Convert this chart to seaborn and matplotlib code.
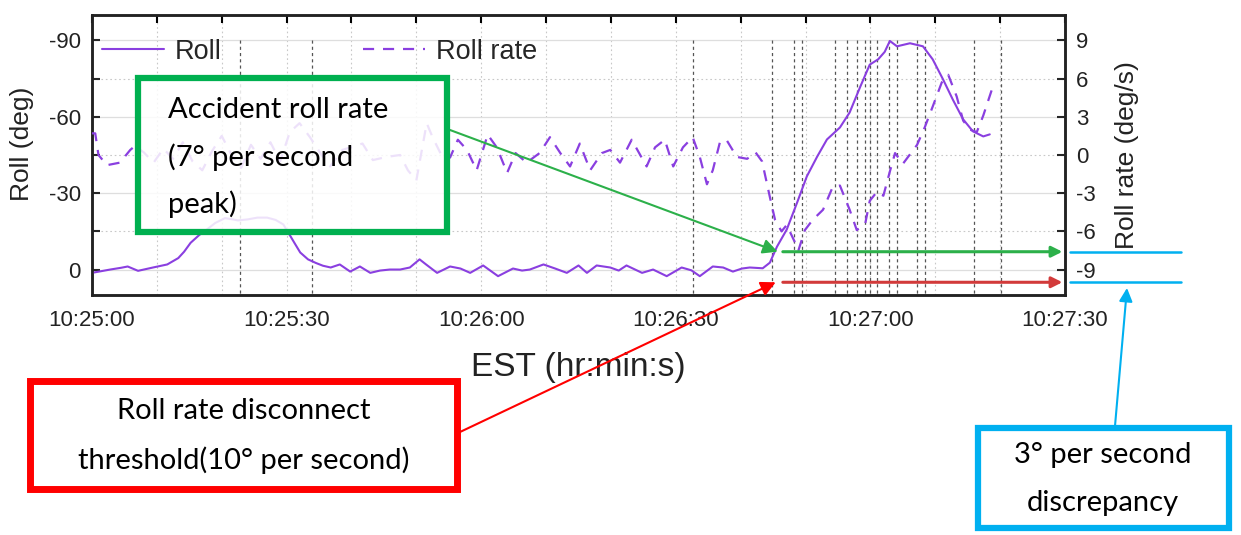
import numpy as np
import matplotlib
matplotlib.use("Agg")
import matplotlib.pyplot as plt
import matplotlib.transforms as mtransforms
from matplotlib.patches import Rectangle, FancyArrowPatch
from matplotlib.lines import Line2D
import seaborn as sns

# seconds after 10:25:00
t_roll = [0, 2.8, 4.5, 5.5, 7.1, 9.4, 11.6, 13.3, 14.2, 15.2, 16.5, 17.7, 19, 20.5, 21.7,
          22.5, 24, 25.5, 27, 28.3, 29.5, 30.5, 31.2, 32.1, 33.3, 34.5, 35.6, 36.8, 38.2,
          39.8, 41.3, 42.9, 44.4, 45.9, 47.5, 49, 50.5, 51.5, 53.2, 55.2, 56.8, 58.3, 60.3,
          62.6, 64.9, 66.3, 67.5, 69.6, 71.4, 73.2, 75, 76.3, 77.8, 79.9, 81.2, 82.4, 84.8,
          86.5, 88.6, 90.9, 92.4, 93.7, 95.7, 97.3, 98.8, 100.2, 101.4, 103.4, 104.5, 105.6,
          107.1, 108.7, 110.2, 111.8, 113.3, 115.3, 116.8, 118.4, 119.9, 121.2, 122.2, 123,
          124.1, 126.1, 128.1, 129.6, 131.2, 132.7, 134.3, 135.8, 137.4, 138.4]
roll = [1.3, 0, -0.7, -1.2, 0.5, -0.8, -2, -4.5, -7, -10.5, -13.5, -15.7, -18.3, -20.2, -19.7,
        -19.3, -19.7, -20.4, -20.4, -19.5, -17.7, -13.5, -10.5, -6.7, -4.0, -2.6, -1.5, -0.8, -2.0,
        0.8, -1.2, 1.3, 0.4, 0, 0, -0.8, -4, -2, 1.3, -1.2, -0.4, 1.3, -1.6,
        2.6, -0.4, 0.4, 0, -2, -0.4, 1.3, -1.6, 1.3, -1.6, -0.8, 0.4, -1.6, 1.3,
        0, 2.6, -0.8, 0.3, 2.6, -1.2, -0.8, 0.8, -0.4, -0.8, -0.5, -2.7, -9,
        -15.7, -26.3, -36.6, -44.4, -51.1, -55.8, -61.7, -71.6, -80.5, -82.6, -85.5, -89.8,
        -87.7, -88.9, -87.7, -82.6, -74.7, -66.8, -59, -54.3, -52.3, -53.1]

t_rate = [0, 0.5, 1, 2.3, 4.3, 5.9, 6.6, 8, 9.5, 11, 12.5, 14, 15.5, 17, 18.5, 20, 21.5, 23,
          24.5, 26, 27.5, 29, 30.5, 32, 33.6, 35.6, 36.7, 38.6, 41.7, 43.3, 45.4, 47.5, 48.7,
          50, 51.6, 52.5, 54, 55.2, 56.4, 57.8, 59.3, 61, 62.4, 64, 65.3, 67, 69, 70.6, 72.2,
          73.7, 75.2, 76.8, 78.6, 79.9, 81.4, 83.2, 85.5, 86.8, 88.3, 89.6, 91.1, 92.6, 93.7,
          94.8, 95.7, 96.8, 97.8, 99.4, 101, 102.3, 103.3, 104.5, 105.3, 106.3, 107.1, 108.4,
          108.9, 109.9, 111.1, 112.7, 114.2, 115.3, 116.8, 117.9, 119.2, 119.9, 121, 122, 123,
          123.8, 125, 127.2, 128.4, 129.6, 131, 132, 133.3, 134.3, 135.3, 136.4, 137.4, 138.7]
rate = [1.7, 1.7, 0, -0.8, -0.6, 0.4, 0.7, 0.2, -0.6, 0.5, -0.3, 1.0, -0.5, -1.2, 0.3, 1.5, 0, -1.0,
        0.8, -0.3, 1.0, -0.5, 1.8, 2.5, 1.4, -0.15, -0.9, 0.4, 0.9, -0.4, -0.15, 0, -1.2,
        -2.0, 2.5, 1.4, -0.15, -0.2, 1.2, 0.4, -1.2, 1.6, 0.6, -1.4, 0.15, -0.6, 0.15, 1.4, 0.15,
        -0.9, 0.9, -1.2, 0.15, 0.4, -0.6, 1.2, -0.9, 0.6, 1.2, -0.9, 0.6, 1.4, -0.15,
        -2.3, -1.2, 1.0, 1.2, -0.15, -0.3, 0.2, -0.5, -3.3, -5.1, -6.0, -5.5, -6.9,
        -7.5, -5.9, -5.1, -4.3, -2.5, -2.4, -4.3, -5.9, -5.4, -3.6, -2.9, -3.2, -1.3,
        0.15, -0.7, 0.8, 2.2, 3.8, 5.7, 6.3, 4.6, 2.7, 2.0, 1.8, 3.1, 5.1]

# event marker times (s after 10:25:00)
events = [22.8, 33.9, 92.6, 104.8, 108.2, 109.5, 114.5, 116.4, 117.9, 119.2, 120.0,
          121.0, 122.9, 124.1, 127.2, 128.4, 136.0, 140.1]

xticks = [0, 30, 60, 90, 120, 150]
xticklabels = ["10:25:00", "10:25:30", "10:26:00", "10:26:30", "10:27:00", "10:27:30"]
roll_ticks = [-90, -60, -30, 0]
rate_ticks = [9, 6, 3, 0, -3, -6, -9]

peak_rate = -7.6
threshold = -10.0

purple = "#8A3FE0"
W, H = 1241, 535

sns.set_style("white")
plt.rcParams["font.family"] = ["Liberation Sans", "DejaVu Sans"]

fig = plt.figure(figsize=(W / 100, H / 100), dpi=100)
ax = fig.add_axes([92 / W, 1 - 295 / H, (1065 - 92) / W, (295 - 15) / H])
ax2 = ax.twinx()

def fx(x):
    return x / W

def fy(y):
    return 1 - y / H

# grid
for v in range(0, 151, 10):
    ax.axvline(v, color="#c8c8c8", lw=0.8, ls=(0, (1.5, 2.5)), zorder=0)
for v in [-90, -60, -30, 0]:
    ax.axhline(v, color="#dedede", lw=0.9, zorder=0)
for v in [-75, -45, -15]:
    ax.axhline(v, color="#c8c8c8", lw=0.8, ls=(0, (1.5, 2.5)), zorder=0)

ax.vlines(events, -90, 10, colors="#555555", lw=0.9, linestyles=(0, (2.5, 2.5)), zorder=1)

sns.lineplot(x=t_roll, y=roll, ax=ax, color=purple, lw=1.5, legend=False, zorder=3)
sns.lineplot(x=t_rate, y=rate, ax=ax2, color=purple, lw=1.6, legend=False,
             linestyle=(0, (5, 4)), zorder=3)

ax.set_xlim(0, 150)
ax.set_ylim(10, -100)
ax2.set_ylim(-11, 11)

ax.set_xticks(range(0, 151, 10))
ax.set_xticklabels([xticklabels[xticks.index(v)] if v in xticks else "" for v in range(0, 151, 10)])
ax.set_yticks(range(-90, 1, 15))
ax.set_yticklabels([str(v) if v in roll_ticks else "" for v in range(-90, 1, 15)])
ax2.set_yticks(rate_ticks)
ax2.set_yticklabels([str(v) for v in rate_ticks])

ax.tick_params(axis="x", direction="in", length=6, width=1.5, labelsize=16, pad=11,
               top=True, colors="black", labelcolor="#222222")
ax.tick_params(axis="y", direction="in", length=6, width=1.5, labelsize=16, pad=8,
               labelcolor="#222222")
ax2.tick_params(axis="y", direction="in", length=6, width=1.5, labelsize=16, pad=8,
                labelcolor="#222222")
for a in (ax, ax2):
    for s in a.spines.values():
        s.set_linewidth(1.8)
        s.set_color("#222222")

ax.set_xlabel("EST (hr:min:s)", fontsize=24, color="#222222", labelpad=15)
ax.set_ylabel("Roll (deg)", fontsize=19, color="#222222")
ax.yaxis.set_label_coords((34 - 92) / 973, 1 - (144 - 15) / 280)
ax2.set_ylabel("Roll rate (deg/s)", fontsize=19, color="#222222", labelpad=14)

handles = [Line2D([], [], color=purple, lw=1.5),
           Line2D([], [], color=purple, lw=1.6, ls=(0, (5, 4)))]
ax2.legend(handles, ["Roll", "Roll rate"], ncol=2, frameon=False, fontsize=19.5,
           loc="upper left", bbox_to_anchor=(fx(91), fy(28)), bbox_transform=fig.transFigure,
           handlelength=2.3, columnspacing=5.2, handletextpad=0.4, borderaxespad=0)

# annotation boxes
green = "#00B050"
red = "#FF0000"
blue = "#00B0F0"
afont = ["Lato", "DejaVu Sans"]
afs = 21

def box(x0, y0, x1, y1, color, lw, alpha=1.0):
    r = Rectangle((fx(x0), fy(y1)), fx(x1) - fx(x0), fy(y0) - fy(y1), transform=fig.transFigure,
                  facecolor=(1, 1, 1, alpha), edgecolor=color, lw=lw, zorder=5)
    fig.add_artist(r)

box(138, 78, 447, 232, green, 4.5, alpha=0.85)
for i, s in enumerate(["Accident roll rate", "(7° per second", "peak)"]):
    fig.text(fx(168), fy(110 + 47 * i), s, family=afont, fontsize=afs, va="center", ha="left",
             color="black", zorder=6)

box(30, 381, 457, 489, red, 5)
for i, s in enumerate(["Roll rate disconnect", "threshold(10° per second)"]):
    fig.text(fx(244), fy(411 + 49 * i), s, family=afont, fontsize=afs, va="center", ha="center",
             color="black", zorder=6)

box(978, 428, 1229, 528, blue, 4.5)
for i, s in enumerate(["3° per second", "discrepancy"]):
    fig.text(fx(1103), fy(455 + 48 * i), s, family=afont, fontsize=afs, va="center", ha="center",
             color="black", zorder=6)

# arrows
def fig_arrow(p0, p1, color, lw=1.5, head=18):
    a = FancyArrowPatch((fx(p0[0]), fy(p0[1])), (fx(p1[0]), fy(p1[1])),
                        transform=fig.transFigure, arrowstyle="-|>", mutation_scale=head,
                        color=color, lw=lw, shrinkA=0, shrinkB=0, zorder=6)
    fig.add_artist(a)

ax2.annotate("", xy=(105.7, peak_rate), xycoords="data",
             xytext=(fx(450), fy(130)), textcoords="figure fraction",
             arrowprops=dict(arrowstyle="-|>", color="#2CB04A", lw=1.5, mutation_scale=22,
                             shrinkA=0, shrinkB=0), annotation_clip=False, zorder=6)
ax2.annotate("", xy=(149.6, peak_rate), xytext=(106.5, peak_rate),
             arrowprops=dict(arrowstyle="-|>", color="#2CB04A", lw=2.2, mutation_scale=16,
                             shrinkA=0, shrinkB=0), annotation_clip=False, zorder=6)
ax2.annotate("", xy=(105.4, threshold), xycoords="data",
             xytext=(fx(460), fy(432)), textcoords="figure fraction",
             arrowprops=dict(arrowstyle="-|>", color=red, lw=1.5, mutation_scale=22,
                             shrinkA=0, shrinkB=0), annotation_clip=False, zorder=6)
ax2.annotate("", xy=(149.6, threshold), xytext=(106.5, threshold),
             arrowprops=dict(arrowstyle="-|>", color="#D23A3A", lw=2.2, mutation_scale=16,
                             shrinkA=0, shrinkB=0), annotation_clip=False, zorder=6)

blend = mtransforms.blended_transform_factory(fig.transFigure, ax2.transData)
for v in (peak_rate, threshold):
    fig.add_artist(Line2D([fx(1070), fx(1181)], [v, v], transform=blend, color=blue, lw=1.8))
fig_arrow((1115, 426), (1127, 288), blue, lw=1.5, head=20)

fig.savefig("out.png", dpi=100)
